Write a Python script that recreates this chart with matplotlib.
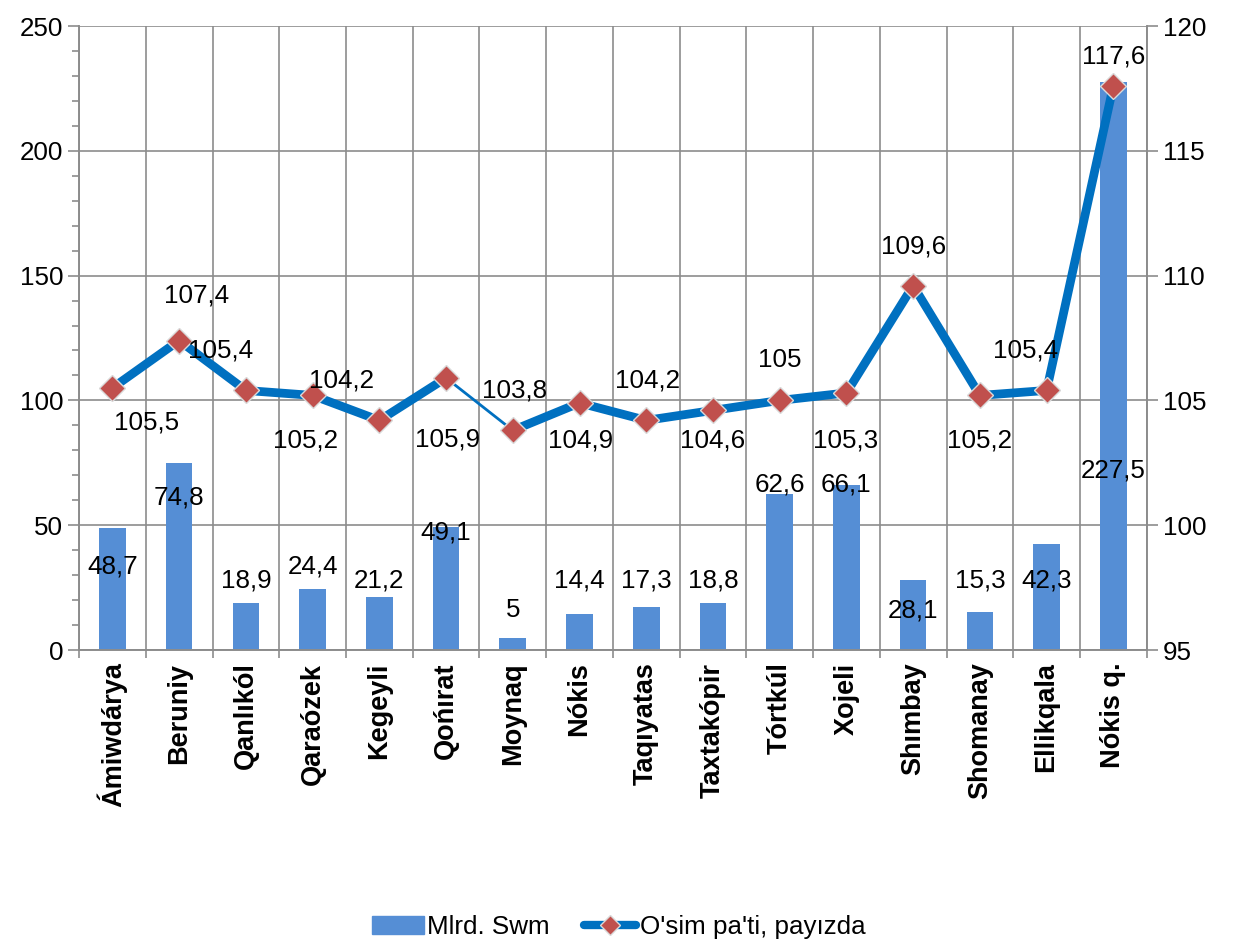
import matplotlib
matplotlib.use("Agg")
import matplotlib.pyplot as plt
from matplotlib.ticker import MultipleLocator, FixedLocator
from matplotlib.lines import Line2D
from matplotlib.patches import Patch
import numpy as np

plt.rcParams['font.family'] = ['Liberation Sans', 'DejaVu Sans']

# Datos
rayonlar = ["Ámiwdárya", "Beruniy", "Qanlıkól", "Qaraózek", "Kegeyli", "Qońırat",
            "Moynaq", "Nókis", "Taqıyatas", "Taxtakópir", "Tórtkúl", "Xojeli",
            "Shımbay", "Shomanay", "Ellikqala", "Nókis q."]
mlrd_swm = [48.7, 74.8, 18.9, 24.4, 21.2, 49.1, 5, 14.4, 17.3, 18.8, 62.6, 66.1,
            28.1, 15.3, 42.3, 227.5]
osim_pati = [105.5, 107.4, 105.4, 105.2, 104.2, 105.9, 103.8, 104.9, 104.2, 104.6,
             105.0, 105.3, 109.6, 105.2, 105.4, 117.6]

# Posiciones de etiquetas (altura en el eje izquierdo) y desplazamientos de la linea (px)
bar_label_y = [33.3, 61.3, 28, 33.3, 28, 46.9, 16, 28, 28, 28, 66.5, 66.5, 16, 28, 28, 72.1]
line_label_off = [(34, -35), (17, 45), (-25, 40), (-7, -45), (-38, 40), (2, -62),
                  (2, 40), (1, -38), (1, 40), (0, -30), (0, 40), (-1, -48),
                  (0, 39), (0, -45), (-21, 40), (0, 29)]
seg_width = [6.3, 6.3, 6.3, 6.3, 6.3, 2.0, 6.3, 6.3, 6.3, 6.3, 6.3, 6.3, 6.3, 6.3, 6.3]

def fmt(v):
    s = f"{v:.1f}".replace(".", ",")
    return s[:-2] if s.endswith(",0") else s

bar_color = "#558ED5"
line_color = "#0070C0"
mark_color = "#C0504D"
grid_color = "#8C8C8C"
fs = 18.7

fig = plt.figure(figsize=(12.37, 9.43), dpi=100)
ax = fig.add_axes([0.0639, 0.3107, 0.927 - 0.0639, 0.9724 - 0.3107])
ax2 = ax.twinx()

x = np.arange(len(rayonlar))
ax.bar(x, mlrd_swm, width=0.40, color=bar_color, zorder=2, label="Mlrd. Swm")
ax.set_xlim(-0.5, len(rayonlar) - 0.5)
ax.set_ylim(0, 250)
ax.yaxis.set_major_locator(MultipleLocator(50))
ax.yaxis.set_minor_locator(MultipleLocator(10))
ax.grid(axis="y", which="major", color=grid_color, lw=1.2, zorder=0)
ax.set_xticks(x)
ax.set_xticklabels(rayonlar, rotation=90, fontsize=19.5, fontweight="bold")
ax.xaxis.set_minor_locator(FixedLocator(np.arange(-0.5, len(rayonlar), 1)))
ax.grid(axis="x", which="minor", color=grid_color, lw=1.2, zorder=0)
ax.tick_params(axis="x", which="major", length=0, pad=9)
ax.tick_params(axis="x", which="minor", length=6, color=grid_color, width=1.2)
ax.tick_params(axis="y", which="major", length=8, color=grid_color, width=1.2, labelsize=fs)
ax.tick_params(axis="y", which="minor", length=5, color=grid_color, width=1.2)
ax.set_axisbelow(True)
for a in (ax, ax2):
    for sp in a.spines.values():
        sp.set_color(grid_color)
        sp.set_linewidth(1.2)
    a.spines["top"].set_visible(False)

for xi, v, ly in zip(x, mlrd_swm, bar_label_y):
    ax.text(xi, ly, fmt(v), ha="center", va="center", fontsize=fs, zorder=3)

# Linea de crecimiento
for i in range(len(x) - 1):
    ax2.plot(x[i:i + 2], osim_pati[i:i + 2], color=line_color, lw=seg_width[i],
             solid_capstyle="round", zorder=3)
ax2.plot(x, osim_pati, linestyle="none", marker="D", ms=13, mfc=mark_color,
         mec="#D9D9D9", mew=1, zorder=4)
ax2.set_ylim(95, 120)
ax2.yaxis.set_major_locator(MultipleLocator(5))
ax2.tick_params(axis="y", length=8, color=grid_color, width=1.2, labelsize=fs)

for xi, v, off in zip(x, osim_pati, line_label_off):
    ax2.annotate(fmt(v), (xi, v), xytext=(off[0] * 0.72, off[1] * 0.72),
                 textcoords="offset points", ha="center", va="center", fontsize=fs, zorder=5)

# Leyenda
handles = [Patch(color=bar_color, label="Mlrd. Swm"),
           Line2D([0], [0], color=line_color, lw=6, marker="D", ms=10, mfc=mark_color,
                  mec="#D9D9D9", solid_capstyle="round", label="O'sim pa'ti, payızda")]
fig.legend(handles=handles, loc="center", bbox_to_anchor=(0.5, 0.017), ncol=2,
           frameon=False, fontsize=fs, handlelength=2.0, handletextpad=0.15, columnspacing=1.3)

fig.savefig("out.png", dpi=100)
